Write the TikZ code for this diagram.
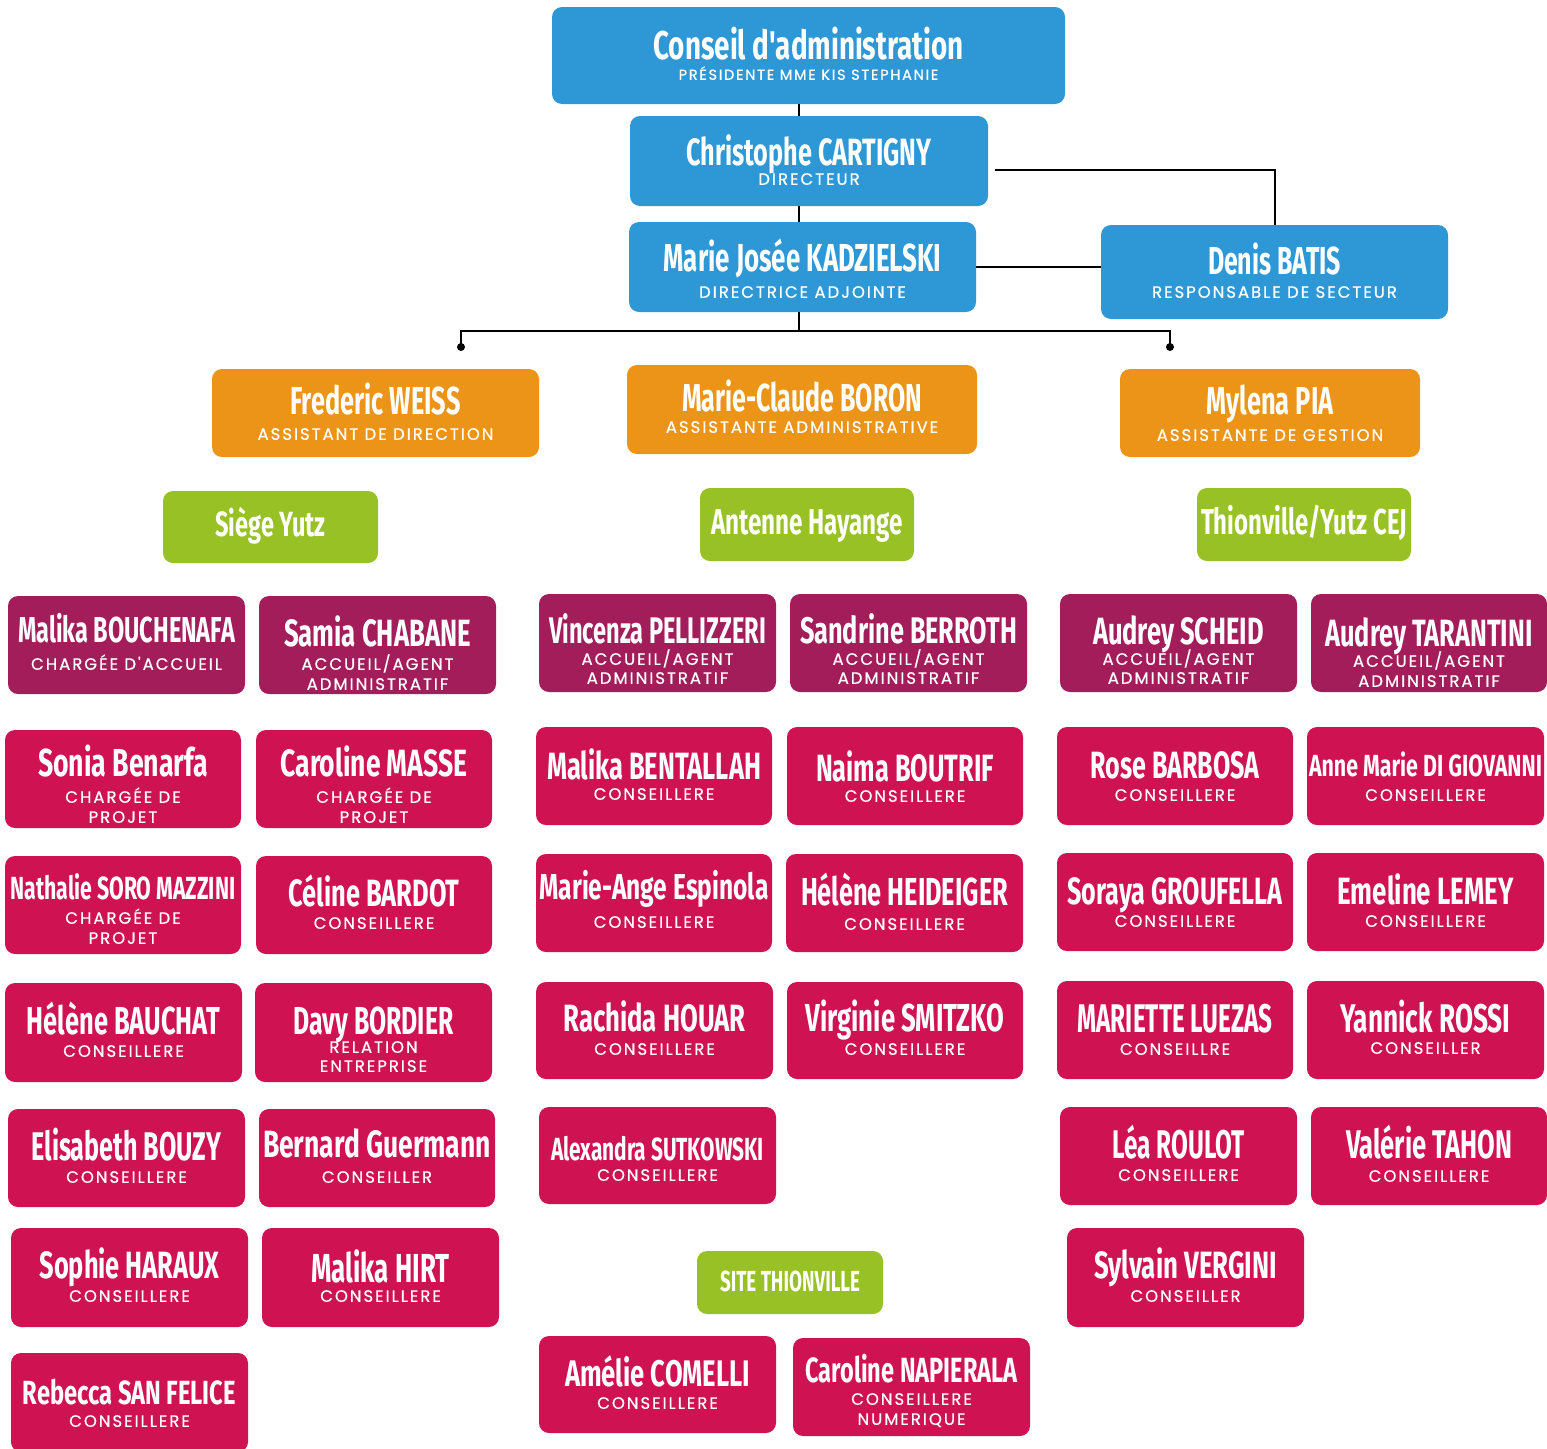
\documentclass[tikz,border=0pt]{standalone}
\usepackage{fontspec}
\usepackage{graphicx}
\newfontfamily\namefam{Fira Sans}
\newfontfamily\subfam[LetterSpace=12, FakeBold=0.6]{Poppins}
\definecolor{cblue}{RGB}{46,152,214}
\definecolor{corange}{RGB}{236,148,24}
\definecolor{cgreen}{RGB}{151,193,37}
\definecolor{cpurple}{RGB}{162,29,90}
\definecolor{ccrimson}{RGB}{206,18,82}
\tikzset{
  cardbase/.style={rounded corners=10pt, inner sep=0pt, draw=none},
  bluecard/.style={cardbase, fill=cblue},
  orangecard/.style={cardbase, fill=corange},
  greencard/.style={cardbase, fill=cgreen},
  purplecard/.style={cardbase, fill=cpurple},
  redcard/.style={cardbase, fill=ccrimson},
  nametext/.style={anchor=base, inner sep=0pt, text=white},
  subtext/.style={anchor=base, inner sep=0pt, text=white},
  link/.style={line width=2pt, black}
}
\newcommand\cardbox[6]{\node[#2, minimum width={(#5-#3)*1pt}, minimum height={(#6-#4)*1pt}] (#1) at ({(#3+#5)/2},{(#4+#6)/2}) {};}
\newcommand\cardname[5]{\node[nametext] (#1-n) at ([yshift=-#2pt]#1.north) {\resizebox{#3pt}{\height}{\namefam\bfseries\fontsize{#4}{#4}\selectfont #5}};}
\newcommand\subl[5][16.5]{\node[subtext, font=\subfam\fontsize{#1}{#1}\selectfont] (#2-s#3) at ([yshift=-#4pt]#2.north) {#5};}
\begin{document}
\begin{tikzpicture}[x=1pt,y=-1pt]
\useasboundingbox (0,0) rectangle (1547,1448);
\fill[white] (0,0) rectangle (1547,1448);

% top level
\cardbox{conseil}{bluecard}{552}{7}{1065}{104}
\cardname{conseil}{53}{310}{40}{Conseil d'administration}
\subl[14.5]{conseil}{1}{73}{PRÉSIDENTE MME KIS STEPHANIE}

\cardbox{chris}{bluecard}{630}{116}{988}{206}
\cardname{chris}{50}{245}{38}{Christophe CARTIGNY}
\subl{chris}{1}{69}{DIRECTEUR}

\cardbox{mj}{bluecard}{629}{222}{976}{312}
\cardname{mj}{50}{278}{39}{Marie Josée KADZIELSKI}
\subl{mj}{1}{76}{DIRECTRICE ADJOINTE}

\cardbox{denis}{bluecard}{1101}{225}{1448}{319}
\cardname{denis}{50}{133}{39}{Denis BATIS}
\subl{denis}{1}{73}{RESPONSABLE DE SECTEUR}

% orange
\cardbox{fred}{orangecard}{212}{369}{539}{457}
\cardname{fred}{46}{170}{39}{Frederic WEISS}
\subl{fred}{1}{71}{ASSISTANT DE DIRECTION}

\cardbox{mcb}{orangecard}{627}{365}{977}{454}
\cardname{mcb}{47}{240}{39}{Marie-Claude BORON}
\subl{mcb}{1}{68}{ASSISTANTE ADMINISTRATIVE}

\cardbox{pia}{orangecard}{1120}{369}{1420}{457}
\cardname{pia}{46}{127}{39}{Mylena PIA}
\subl{pia}{1}{72}{ASSISTANTE DE GESTION}

% green
\cardbox{siege}{greencard}{163}{491}{378}{563}
\cardname{siege}{46}{110}{35}{Siège Yutz}
\cardbox{hay}{greencard}{700}{488}{914}{561}
\cardname{hay}{47}{192}{36}{Antenne Hayange}
\cardbox{cej}{greencard}{1197}{488}{1411}{561}
\cardname{cej}{47}{206}{36}{Thionville/Yutz CEJ}
\cardbox{site}{greencard}{697}{1251}{883}{1314}
\cardname{site}{41}{140}{29}{SITE THIONVILLE}

% purple row
\cardbox{bouch}{purplecard}{8}{596}{245}{694}
\cardname{bouch}{47}{217}{36}{Malika BOUCHENAFA}
\subl{bouch}{1}{74}{CHARGÉE D'ACCUEIL}

\cardbox{chab}{purplecard}{259}{596}{496}{694}
\cardname{chab}{51}{187}{38}{Samia CHABANE}
\subl{chab}{1}{74}{ACCUEIL/AGENT}
\subl{chab}{2}{94}{ADMINISTRATIF}

\cardbox{pell}{purplecard}{539}{594}{776}{692}
\cardname{pell}{50}{217}{37}{Vincenza PELLIZZERI}
\subl{pell}{1}{71}{ACCUEIL/AGENT}
\subl{pell}{2}{90}{ADMINISTRATIF}

\cardbox{berr}{purplecard}{790}{594}{1027}{692}
\cardname{berr}{50}{217}{37}{Sandrine BERROTH}
\subl{berr}{1}{71}{ACCUEIL/AGENT}
\subl{berr}{2}{90}{ADMINISTRATIF}

\cardbox{sche}{purplecard}{1060}{594}{1297}{692}
\cardname{sche}{51}{171}{38}{Audrey SCHEID}
\subl{sche}{1}{71}{ACCUEIL/AGENT}
\subl{sche}{2}{90}{ADMINISTRATIF}

\cardbox{tara}{purplecard}{1311}{594}{1547}{692}
\cardname{tara}{53}{207}{38}{Audrey TARANTINI}
\subl{tara}{1}{73}{ACCUEIL/AGENT}
\subl{tara}{2}{93}{ADMINISTRATIF}

% row 2
\cardbox{sonia}{redcard}{5}{730}{241}{828}
\cardname{sonia}{47}{170}{39}{Sonia Benarfa}
\subl{sonia}{1}{73}{CHARGÉE DE}
\subl{sonia}{2}{93}{PROJET}

\cardbox{masse}{redcard}{256}{730}{492}{828}
\cardname{masse}{47}{187}{38}{Caroline MASSE}
\subl{masse}{1}{73}{CHARGÉE DE}
\subl{masse}{2}{93}{PROJET}

\cardbox{bent}{redcard}{536}{727}{772}{825}
\cardname{bent}{53}{214}{38}{Malika BENTALLAH}
\subl{bent}{1}{73}{CONSEILLERE}

\cardbox{boutrif}{redcard}{787}{727}{1023}{825}
\cardname{boutrif}{55}{178}{38}{Naima BOUTRIF}
\subl{boutrif}{1}{75}{CONSEILLERE}

\cardbox{barbosa}{redcard}{1057}{727}{1293}{825}
\cardname{barbosa}{52}{169}{38}{Rose BARBOSA}
\subl{barbosa}{1}{74}{CONSEILLERE}

\cardbox{giov}{redcard}{1307}{727}{1544}{825}
\cardname{giov}{50}{233}{30.5}{Anne Marie DI GIOVANNI}
\subl{giov}{1}{74}{CONSEILLERE}

% row 3
\cardbox{soro}{redcard}{5}{856}{241}{954}
\cardname{soro}{44}{225}{32}{Nathalie SORO MAZZINI}
\subl{soro}{1}{68}{CHARGÉE DE}
\subl{soro}{2}{88}{PROJET}

\cardbox{bardot}{redcard}{256}{856}{492}{954}
\cardname{bardot}{51}{171}{38}{Céline BARDOT}
\subl{bardot}{1}{73}{CONSEILLERE}

\cardbox{espi}{redcard}{536}{854}{772}{952}
\cardname{espi}{46}{229}{36}{Marie-Ange Espinola}
\subl{espi}{1}{74}{CONSEILLERE}

\cardbox{heid}{redcard}{786}{854}{1023}{952}
\cardname{heid}{52}{207}{39}{Hélène HEIDEIGER}
\subl{heid}{1}{76}{CONSEILLERE}

\cardbox{grou}{redcard}{1057}{853}{1293}{951}
\cardname{grou}{52}{215}{38}{Soraya GROUFELLA}
\subl{grou}{1}{74}{CONSEILLERE}

\cardbox{lemey}{redcard}{1307}{853}{1544}{951}
\cardname{lemey}{52}{176}{38}{Emeline LEMEY}
\subl{lemey}{1}{74}{CONSEILLERE}

% row 4
\cardbox{bauchat}{redcard}{5}{983}{242}{1082}
\cardname{bauchat}{52}{193}{39}{Hélène BAUCHAT}
\subl{bauchat}{1}{74}{CONSEILLERE}

\cardbox{bordier}{redcard}{255}{983}{492}{1082}
\cardname{bordier}{52}{160}{39}{Davy BORDIER}
\subl{bordier}{1}{70}{RELATION}
\subl{bordier}{2}{89}{ENTREPRISE}

\cardbox{houar}{redcard}{536}{982}{773}{1079}
\cardname{houar}{50}{182}{38}{Rachida HOUAR}
\subl{houar}{1}{73}{CONSEILLERE}

\cardbox{smit}{redcard}{787}{982}{1023}{1079}
\cardname{smit}{50}{199}{39}{Virginie SMITZKO}
\subl{smit}{1}{73}{CONSEILLERE}

\cardbox{luez}{redcard}{1057}{981}{1293}{1079}
\cardname{luez}{52}{195}{40}{MARIETTE LUEZAS}
\subl{luez}{1}{74}{CONSEILLRE}

\cardbox{rossi}{redcard}{1307}{981}{1544}{1079}
\cardname{rossi}{52}{170}{40}{Yannick ROSSI}
\subl{rossi}{1}{73}{CONSEILLER}

% row 5
\cardbox{bouzy}{redcard}{8}{1109}{245}{1207}
\cardname{bouzy}{52}{190}{40}{Elisabeth BOUZY}
\subl{bouzy}{1}{74}{CONSEILLERE}

\cardbox{guer}{redcard}{259}{1109}{495}{1207}
\cardname{guer}{49}{228}{38}{Bernard Guermann}
\subl{guer}{1}{74}{CONSEILLER}

\cardbox{sutk}{redcard}{539}{1107}{776}{1204}
\cardname{sutk}{54}{213}{32}{Alexandra SUTKOWSKI}
\subl{sutk}{1}{74}{CONSEILLERE}

\cardbox{roul}{redcard}{1060}{1107}{1297}{1205}
\cardname{roul}{52}{132}{40}{Léa ROULOT}
\subl{roul}{1}{74}{CONSEILLERE}

\cardbox{tahon}{redcard}{1311}{1107}{1547}{1205}
\cardname{tahon}{52}{166}{40}{Valérie TAHON}
\subl{tahon}{1}{75}{CONSEILLERE}

% row 6
\cardbox{haraux}{redcard}{11}{1228}{248}{1327}
\cardname{haraux}{51}{180}{38}{Sophie HARAUX}
\subl{haraux}{1}{74}{CONSEILLERE}

\cardbox{hirt}{redcard}{262}{1228}{499}{1327}
\cardname{hirt}{55}{138}{40.5}{Malika HIRT}
\subl{hirt}{1}{74}{CONSEILLERE}

\cardbox{vergini}{redcard}{1067}{1228}{1304}{1327}
\cardname{vergini}{51}{183}{38}{Sylvain VERGINI}
\subl{vergini}{1}{74}{CONSEILLER}

% row 7
\cardbox{felice}{redcard}{11}{1353}{248}{1452}
\cardname{felice}{52}{213}{33.5}{Rebecca SAN FELICE}
\subl{felice}{1}{74}{CONSEILLERE}

\cardbox{comelli}{redcard}{539}{1336}{776}{1433}
\cardname{comelli}{51}{185}{37}{Amélie COMELLI}
\subl{comelli}{1}{73}{CONSEILLERE}

\cardbox{napie}{redcard}{793}{1338}{1030}{1436}
\cardname{napie}{45}{212}{35}{Caroline NAPIERALA}
\subl{napie}{1}{67}{CONSEILLERE}
\subl{napie}{2}{87}{NUMERIQUE}

% connectors
\coordinate (bar) at (799,331);
\coordinate (cj) at (995,170);
\coordinate (dl) at (461,347);
\coordinate (dr) at (1170,347);
\draw[link] (conseil.south -| bar) -- (chris.north -| bar);
\draw[link] (chris.south -| bar) -- (mj.north -| bar);
\draw[link] (cj) -| (denis.north);
\draw[link] (mj.east) -- (mj.east -| denis.west);
\draw[link] (mj.south -| bar) -- (bar);
\draw[link] (dl) |- (bar) -| (dr);
\fill (dl) circle (4pt);
\fill (dr) circle (4pt);
\end{tikzpicture}
\end{document}
